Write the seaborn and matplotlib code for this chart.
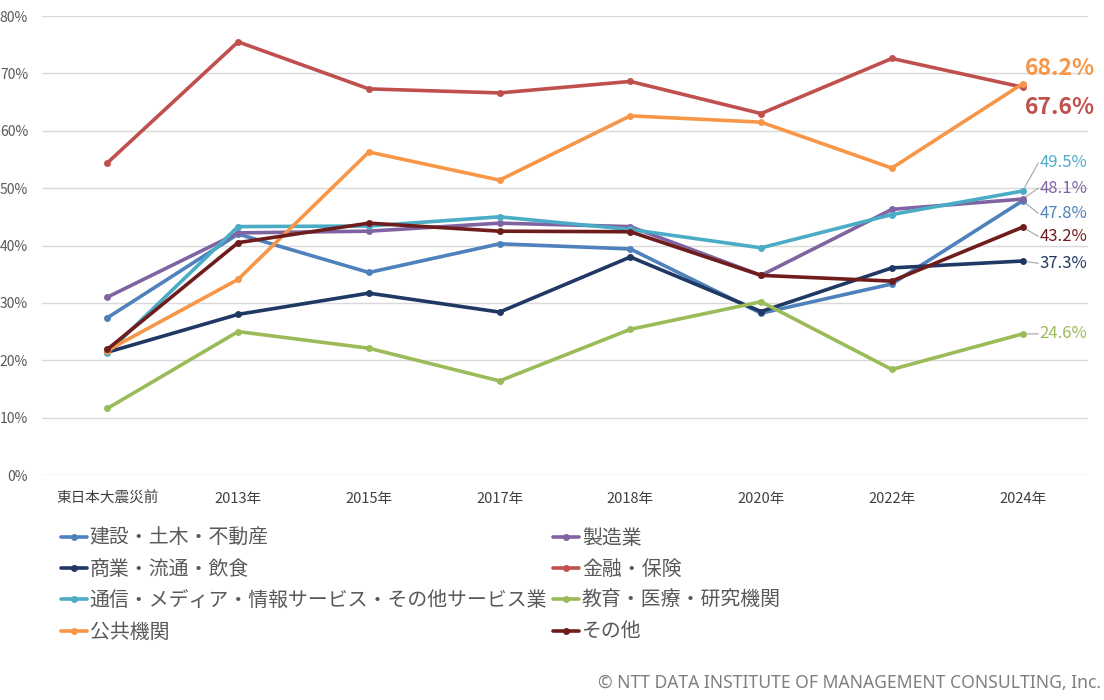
import matplotlib
matplotlib.use("Agg")
import matplotlib.pyplot as plt
import seaborn as sns
import pandas as pd
from matplotlib.ticker import FuncFormatter

categories = ['東日本大震災前', '2013年', '2015年', '2017年', '2018年', '2020年', '2022年', '2024年']
series_names = ['建設・土木・不動産', '製造業', '商業・流通・飲食', '金融・保険',
                '通信・メディア・情報サービス・その他サービス業', '教育・医療・研究機関', '公共機関', 'その他']
kensetsu = [27.4, 42.0, 35.3, 40.3, 39.4, 28.2, 33.3, 47.8]
seizo = [31.0, 42.2, 42.5, 43.9, 43.3, 34.8, 46.3, 48.1]
shogyo = [21.4, 28.0, 31.7, 28.4, 38.0, 28.5, 36.1, 37.3]
kinyu = [54.4, 75.5, 67.3, 66.6, 68.6, 63.0, 72.6, 67.6]
tsushin = [21.3, 43.3, 43.4, 45.0, 42.8, 39.6, 45.4, 49.5]
kyoiku = [11.6, 25.0, 22.1, 16.4, 25.4, 30.2, 18.4, 24.6]
kokyo = [21.7, 34.1, 56.3, 51.4, 62.6, 61.5, 53.5, 68.2]
sonota = [21.9, 40.5, 43.9, 42.5, 42.4, 34.8, 33.8, 43.2]
values = [kensetsu, seizo, shogyo, kinyu, tsushin, kyoiku, kokyo, sonota]

colors = ['#4F81BD', '#8064A2', '#1F3864', '#C0504D', '#4BACC6', '#9BBB59', '#F79646', '#6E1C1C']

sns.set_theme(style='white')
plt.rcParams['font.family'] = ['Noto Sans CJK JP', 'DejaVu Sans']

rows = []
for name, vals in zip(series_names, values):
    for c, v in zip(categories, vals):
        rows.append({'x': c, 'v': v, 's': name})
df = pd.DataFrame(rows)

fig = plt.figure(figsize=(11.04, 7.0), dpi=100)
ax = fig.add_axes([0.038, 0.3214, 0.9475, 0.6557])

sns.lineplot(data=df, x='x', y='v', hue='s', hue_order=series_names,
             palette=dict(zip(series_names, colors)), marker='o', markersize=5,
             markeredgewidth=0, linewidth=2.6, sort=False, ax=ax)

ax.set_xlim(-0.5, len(categories) - 0.5)
ax.set_ylim(0, 80)
ax.set_yticks(range(0, 81, 10))
ax.yaxis.set_major_formatter(FuncFormatter(lambda y, p: f'{y:.0f}%'))
ax.grid(axis='y', color='#D9D9D9', linewidth=1)
ax.grid(axis='x', visible=False)
for sp in ax.spines.values():
    sp.set_visible(False)
ax.set_xlabel('')
ax.set_ylabel('')
ax.tick_params(axis='y', length=0, labelsize=10, labelcolor='#595959', pad=10)
ax.tick_params(axis='x', length=0, labelsize=10.5, labelcolor='#404040', pad=12)

# end-point labels
last = [v[-1] for v in values]
label_style = {
    # series index: (x position, y position of label, fontsize, bold, leader)
    6: (7.02, 70.8, 16.5, True, False),
    3: (7.02, 64.0, 16.5, True, False),
    4: (7.13, 54.4, 12, False, True),
    1: (7.13, 50.0, 12, False, True),
    0: (7.13, 45.6, 12, False, True),
    7: (7.13, 41.6, 12, False, True),
    2: (7.13, 36.9, 12, False, True),
    5: (7.13, 24.6, 12, False, True),
}
n = len(categories) - 1
for i, (lx, ly, fs, bold, leader) in label_style.items():
    ax.text(lx, ly, f'{last[i]:.1f}%', color=colors[i], fontsize=fs,
            fontweight='bold' if bold else 'normal', va='center', ha='left',
            clip_on=False)
    if leader:
        ax.annotate('', xy=(n, last[i]), xytext=(lx - 0.01, ly),
                    arrowprops=dict(arrowstyle='-', color='#A6A6A6', lw=0.8,
                                    shrinkA=0, shrinkB=3),
                    annotation_clip=False)

# legend
handles, labels = ax.get_legend_handles_labels()
ax.get_legend().remove()
order = [0, 2, 4, 6, 1, 3, 5, 7]
leg = fig.legend([handles[i] for i in order], [labels[i] for i in order],
                 ncol=2, loc='upper left', bbox_to_anchor=(0.055, 0.2455),
                 frameon=False, fontsize=14.3, handlelength=1.3,
                 handletextpad=0.15, columnspacing=0.3, labelspacing=0.51,
                 labelcolor='#595959', borderaxespad=0, borderpad=0)

fig.text(0.997, 0.012, '© NTT DATA INSTITUTE OF MANAGEMENT CONSULTING, Inc.',
         ha='right', va='bottom', fontsize=12.6, color='#7F7F7F',
         family=['Noto Sans', 'DejaVu Sans'])

fig.savefig('out.png', dpi=100)
